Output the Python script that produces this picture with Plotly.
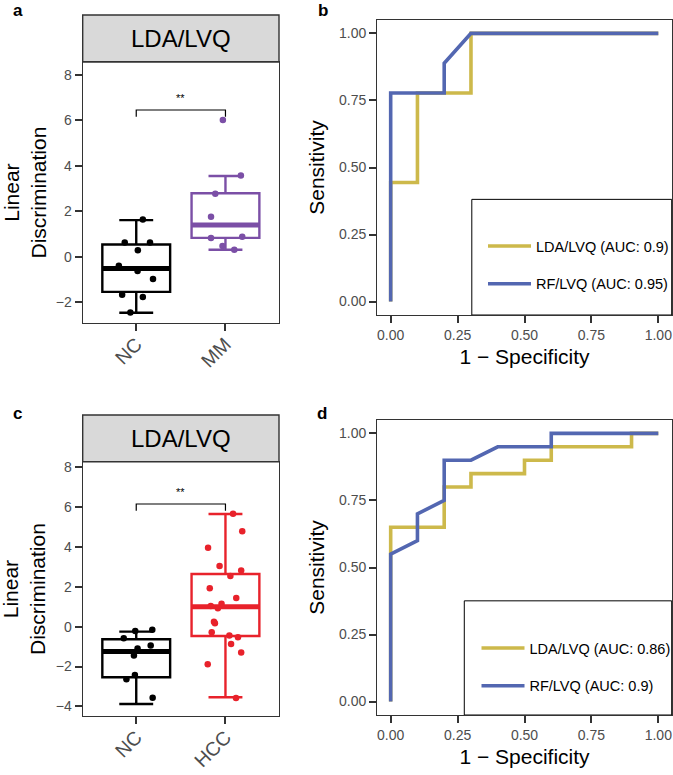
import plotly.graph_objects as go

W, H = 673, 775
FONT = "Liberation Sans, Arial, sans-serif"
TICKC = "#4D4D4D"
AXC = "#333333"

# ---------------- data ----------------
groups_a = ["NC", "MM"]
groups_c = ["NC", "HCC"]
colors_a = ["#000000", "#7B4FA6"]
colors_c = ["#000000", "#E8222B"]

# box statistics: lower, q1, median, q3, upper
box_a_nc = [-2.46, -1.54, -0.51, 0.54, 1.61]
box_a_mm = [0.31, 0.83, 1.40, 2.79, 3.55]
box_c_nc = [-3.88, -2.54, -1.25, -0.63, -0.25]
box_c_hcc = [-3.54, -0.47, 1.00, 2.64, 5.65]

# jittered points: values and horizontal jitter offsets (category units)
pts_a_nc = [1.64, 0.63, 0.63, 0.29, -0.39, -0.62, -0.98, -1.67, -1.77, -2.45]
jit_a_nc = [0.074, -0.129, 0.154, 0.018, -0.195, 0.015, 0.188, -0.158, 0.074, -0.066]
pts_a_mm = [6.01, 3.57, 2.77, 1.76, 0.82, 0.88, 0.47, 0.31]
jit_a_mm = [-0.029, 0.173, -0.114, -0.162, -0.162, 0.188, -0.033, 0.099]

pts_c_nc = [-0.58, -0.22, -0.15, -0.94, -1.09, -1.45, -2.42, -2.64, -3.56]
jit_c_nc = [-0.14, -0.011, 0.18, 0.162, 0.015, -0.026, -0.015, -0.11, 0.184]
pts_c_hcc = [5.66, 4.78, 3.96, 3.04, 2.81, 2.54, 1.92, 1.44, 1.15, 1.04,
             0.92, 0.25, 0.17, -0.28, -0.45, -0.53, -0.87, -1.29, -1.89, -3.58]
jit_c_hcc = [0.085, 0.188, -0.195, -0.066, 0.176, 0.055, -0.176, 0.121, -0.044, -0.165,
             -0.085, -0.129, -0.118, -0.154, 0.044, 0.14, 0.063, 0.176, -0.199, 0.118]

# significance brackets: leg bottom, bar top, label y
sig_a = [6.15, 6.45, 6.96]
sig_c = [5.81, 6.15, 6.77]
sig_label = "**"

# ROC curves
roc_b_lda_x = [0, 0, 0.1, 0.1, 0.3, 0.3, 1.0]
roc_b_lda_y = [0, 0.444, 0.444, 0.778, 0.778, 1.0, 1.0]
roc_b_rf_x = [0, 0, 0.2, 0.2, 0.3, 1.0]
roc_b_rf_y = [0, 0.778, 0.778, 0.889, 1.0, 1.0]

roc_d_lda_x = [0, 0, 0.2, 0.2, 0.3, 0.3, 0.5, 0.5, 0.6, 0.6, 0.9, 0.9, 1.0]
roc_d_lda_y = [0, 0.65, 0.65, 0.80, 0.80, 0.85, 0.85, 0.90, 0.90, 0.95, 0.95, 1.0, 1.0]
roc_d_rf_x = [0, 0, 0.1, 0.1, 0.2, 0.2, 0.3, 0.4, 0.6, 0.6, 1.0]
roc_d_rf_y = [0, 0.55, 0.60, 0.70, 0.75, 0.90, 0.90, 0.95, 0.95, 1.0, 1.0]

names_b = ["LDA/LVQ (AUC: 0.9)", "RF/LVQ (AUC: 0.95)"]
names_d = ["LDA/LVQ (AUC: 0.86)", "RF/LVQ (AUC: 0.9)"]
roc_colors = ["#CDB94B", "#5367B1"]

strip_label = "LDA/LVQ"
ytitle_box = "Linear<br>Discrimination"
roc_ticks = [0, 0.25, 0.5, 0.75, 1.0]
box_yticks_a = [-2, 0, 2, 4, 6, 8]
box_yticks_c = [-4, -2, 0, 2, 4, 6, 8]

# ---------------- layout geometry (pixels) ----------------
def px_x(v):
    return v / W

def px_y(v):
    return 1 - v / H

BOXW = 0.76

fig = go.Figure()


def add_box_panel(xa, ya, stats_list, pts_list, jit_list, cols, sig):
    for i, (st, pts, jit, c) in enumerate(zip(stats_list, pts_list, jit_list, cols)):
        pos = i + 1
        fig.add_trace(go.Box(
            x=[pos], lowerfence=[st[0]], q1=[st[1]], median=[st[2]], q3=[st[3]],
            upperfence=[st[4]], width=BOXW, boxpoints=False,
            line=dict(color=c, width=2.4), fillcolor="rgba(255,255,255,0)",
            xaxis=xa, yaxis=ya, showlegend=False, hoverinfo="skip"))
        fig.add_trace(go.Scatter(
            x=[pos - BOXW / 2, pos + BOXW / 2], y=[st[2], st[2]], mode="lines",
            line=dict(color=c, width=5), xaxis=xa, yaxis=ya, showlegend=False,
            hoverinfo="skip"))
        fig.add_trace(go.Scatter(
            x=[pos + j for j in jit], y=pts, mode="markers",
            marker=dict(color=c, size=6.5), xaxis=xa, yaxis=ya, showlegend=False))
    fig.add_trace(go.Scatter(
        x=[1, 1, 2, 2], y=[sig[0], sig[1], sig[1], sig[0]], mode="lines",
        line=dict(color="black", width=1.2), xaxis=xa, yaxis=ya, showlegend=False))
    fig.add_annotation(x=1.5, y=sig[2], xref=xa, yref=ya, text=sig_label,
                       showarrow=False, xanchor="center", yanchor="middle",
                       font=dict(size=11, color="black", family=FONT))


add_box_panel("x", "y", [box_a_nc, box_a_mm], [pts_a_nc, pts_a_mm],
              [jit_a_nc, jit_a_mm], colors_a, sig_a)
add_box_panel("x3", "y3", [box_c_nc, box_c_hcc], [pts_c_nc, pts_c_hcc],
              [jit_c_nc, jit_c_hcc], colors_c, sig_c)


def add_roc(xa, ya, xs, ys, names, legend):
    for x, y, n, c in zip(xs, ys, names, roc_colors):
        fig.add_trace(go.Scatter(x=x, y=y, mode="lines", name=n,
                                 line=dict(color=c, width=3.6),
                                 xaxis=xa, yaxis=ya, legend=legend, legendgroup=n))


add_roc("x2", "y2", [roc_b_lda_x, roc_b_rf_x], [roc_b_lda_y, roc_b_rf_y], names_b, "legend")
add_roc("x4", "y4", [roc_d_lda_x, roc_d_rf_x], [roc_d_lda_y, roc_d_rf_y], names_d, "legend2")

# axes
common_axis = dict(showline=True, linecolor=AXC, linewidth=1.4, mirror=True,
                   ticks="outside", ticklen=7, tickwidth=1.6, tickcolor=AXC,
                   showgrid=False, zeroline=False,
                   tickfont=dict(size=14, color=TICKC, family=FONT))
roc_tickfont = dict(size=14, color=TICKC, family=FONT)
cat_tickfont = dict(size=19.5, color=TICKC, family=FONT)

box_x_dom = [px_x(82.7), px_x(279)]
roc_x_dom = [px_x(377.3), px_x(671.7)]
title_font = dict(size=21, color="black", family=FONT)

fig.update_layout(
    xaxis=dict(common_axis, domain=box_x_dom, anchor="y", range=[0.4, 2.6],
               tickvals=[1, 2], ticktext=groups_a, tickangle=-45,
               tickfont=cat_tickfont, ticklabelstandoff=-6),
    yaxis=dict(common_axis, domain=[px_y(323), px_y(62)], anchor="x",
               range=[-2.91, 8.56], tickvals=box_yticks_a),
    xaxis3=dict(common_axis, domain=box_x_dom, anchor="y3", range=[0.4, 2.6],
                tickvals=[1, 2], ticktext=groups_c, tickangle=-45,
                tickfont=cat_tickfont, ticklabelstandoff=-6),
    yaxis3=dict(common_axis, domain=[px_y(716), px_y(461.7)], anchor="x3",
                range=[-4.48, 8.27], tickvals=box_yticks_c),
    xaxis2=dict(common_axis, domain=roc_x_dom, anchor="y2", range=[-0.05, 1.05],
                tickvals=roc_ticks, tickformat=".2f", tickfont=roc_tickfont,
                title=dict(text="1 \u2212 Specificity", font=title_font, standoff=7)),
    yaxis2=dict(common_axis, domain=[px_y(315), px_y(20)], anchor="x2", range=[-0.05, 1.05],
                tickvals=roc_ticks, tickformat=".2f", tickfont=roc_tickfont,
                title=dict(text="Sensitivity", font=title_font, standoff=8)),
    xaxis4=dict(common_axis, domain=roc_x_dom, anchor="y4", range=[-0.05, 1.05],
                tickvals=roc_ticks, tickformat=".2f", tickfont=roc_tickfont,
                title=dict(text="1 \u2212 Specificity", font=title_font, standoff=7)),
    yaxis4=dict(common_axis, domain=[px_y(715), px_y(420)], anchor="x4", range=[-0.05, 1.05],
                tickvals=roc_ticks, tickformat=".2f", tickfont=roc_tickfont,
                title=dict(text="Sensitivity", font=title_font, standoff=8)),
)

legend_common = dict(bgcolor="rgba(0,0,0,0)", borderwidth=0, tracegroupgap=16,
                     font=dict(size=14.5, color="black", family=FONT),
                     xanchor="left", yanchor="top", itemwidth=43)
fig.update_layout(
    legend=dict(legend_common, x=px_x(483), y=px_y(230)),
    legend2=dict(legend_common, x=px_x(476.5), y=px_y(632)),
)

shapes = []
# strips
for top, bot in [(15, 62), (415, 461.7)]:
    shapes.append(dict(type="rect", xref="paper", yref="paper",
                       x0=box_x_dom[0], x1=box_x_dom[1], y0=px_y(bot), y1=px_y(top),
                       fillcolor="#D9D9D9", line=dict(color=AXC, width=1.4), layer="below"))
# legend boxes
for xa, x0, ytop in [("x2", 0.321, 0.392), ("x4", 0.2955, 0.387)]:
    shapes.append(dict(type="rect", xref=xa + " domain", yref=xa.replace("x", "y") + " domain",
                       x0=x0, x1=1.0, y0=0, y1=ytop,
                       fillcolor="white", line=dict(color="black", width=1), layer="below"))
fig.update_layout(shapes=shapes)

annots = [
    dict(x=sum(box_x_dom) / 2, y=px_y(38.5), text=strip_label, font=dict(size=24)),
    dict(x=sum(box_x_dom) / 2, y=px_y(438.3), text=strip_label, font=dict(size=24)),
    dict(x=px_x(24), y=px_y(192.5), text=ytitle_box, textangle=-90, font=dict(size=21)),
    dict(x=px_x(24), y=px_y(589), text=ytitle_box, textangle=-90, font=dict(size=21)),
    dict(x=px_x(18), y=px_y(10), text="<b>a</b>", font=dict(size=17)),
    dict(x=px_x(323), y=px_y(10), text="<b>b</b>", font=dict(size=17)),
    dict(x=px_x(17), y=px_y(413), text="<b>c</b>", font=dict(size=17)),
    dict(x=px_x(322), y=px_y(413), text="<b>d</b>", font=dict(size=17)),
]
for a in annots:
    a["xref"] = "paper"
    a["yref"] = "paper"
    a["showarrow"] = False
    a["xanchor"] = "center"
    a["yanchor"] = "middle"
    a["font"] = dict(a["font"], color="black", family=FONT)
    fig.add_annotation(**a)

fig.update_layout(width=W, height=H, margin=dict(l=0, r=0, t=0, b=0, autoexpand=False),
                  paper_bgcolor="white", plot_bgcolor="white",
                  font=dict(family=FONT, color="black"))

fig.write_html("out.html", config={"displayModeBar": False},
               post_script="document.body.style.margin='0';document.body.style.padding='0';")
